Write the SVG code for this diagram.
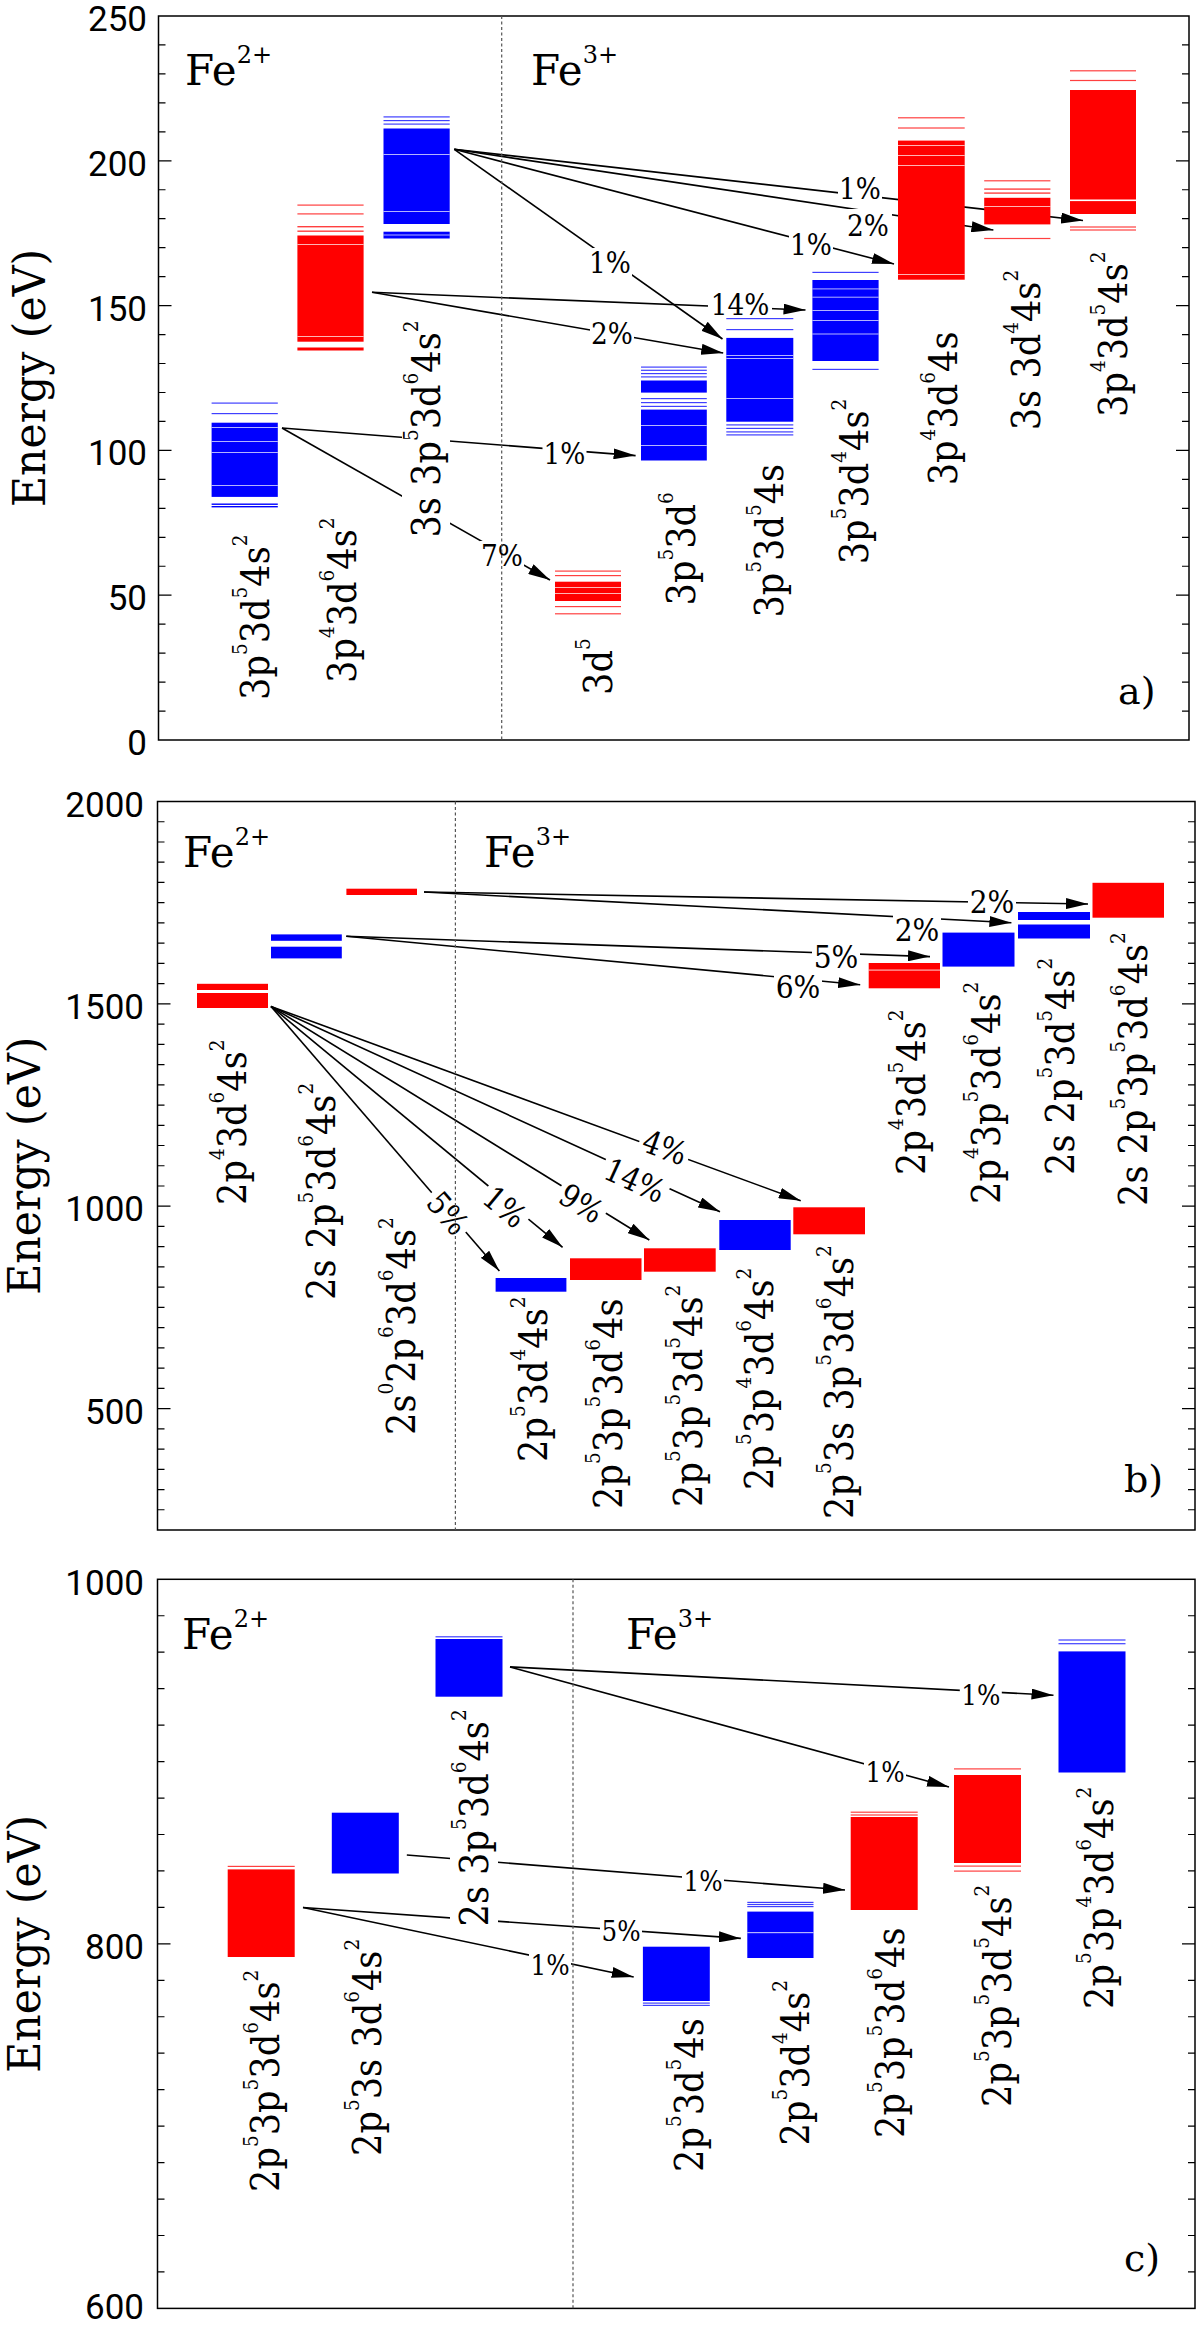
<svg xmlns="http://www.w3.org/2000/svg" width="1200" height="2328" viewBox="0 0 1200 2328">
<defs>
<style>
.bg{fill:#fff}
.fr{fill:none;stroke:#000;stroke-width:1.5}
.tk{fill:none;stroke:#000;stroke-width:1.2}
.dl{stroke:#555;stroke-width:1.2;stroke-dasharray:3,2.5}
.tl{font-family:Roboto,"Liberation Sans",sans-serif;font-size:35px;text-anchor:end;fill:#000}
.ax{font-family:"DejaVu Serif","Liberation Serif",serif;font-size:44px;text-anchor:middle;fill:#000}
.fe{font-family:"DejaVu Serif","Liberation Serif",serif;font-size:42px;fill:#000}
.fs{font-size:24px}
.pl{font-family:"DejaVu Serif","Liberation Serif",serif;font-size:38px;fill:#000}
.cf{font-family:"DejaVu Serif","Liberation Serif",serif;font-size:40px;fill:#000}
.su{font-size:21px}
.pc{font-family:"DejaVu Serif","Liberation Serif",serif;font-size:30px;text-anchor:middle;fill:#000}
.pb{font-size:32px}
.pcc{font-size:28px}
.r{fill:#f00}
.b{fill:#00f}
.rt{fill:#f00;opacity:.75}
.bt{fill:#00f;opacity:.75}
.wl{fill:#fff;opacity:.7}
.w{fill:#fff}
.cn{fill:none;stroke:#000;stroke-width:1.6;marker-end:url(#ah)}
</style>
<marker id="ah" markerUnits="userSpaceOnUse" markerWidth="22" markerHeight="11" refX="22" refY="5.5" orient="auto"><path d="M0,0 L22,5.5 L0,11 z" fill="#000"/></marker>
</defs>
<rect class="bg" x="0" y="0" width="1200" height="2328"/>

<!-- ========== AXES ========== -->
<g id="axes">
<!-- panel a -->
<rect class="fr" x="158.5" y="16" width="1030.5" height="724"/>
<path class="tk" d="M158.5,711.04h7M158.5,682.08h7M158.5,653.12h7M158.5,624.16h7M158.5,595.2h13M158.5,566.24h7M158.5,537.28h7M158.5,508.32h7M158.5,479.36h7M158.5,450.4h13M158.5,421.44h7M158.5,392.48h7M158.5,363.52h7M158.5,334.56h7M158.5,305.6h13M158.5,276.64h7M158.5,247.68h7M158.5,218.72h7M158.5,189.76h7M158.5,160.8h13M158.5,131.84h7M158.5,102.88h7M158.5,73.92h7M158.5,44.96h7"/>
<path class="tk" d="M1189,711.04h-7M1189,682.08h-7M1189,653.12h-7M1189,624.16h-7M1189,595.2h-13M1189,566.24h-7M1189,537.28h-7M1189,508.32h-7M1189,479.36h-7M1189,450.4h-13M1189,421.44h-7M1189,392.48h-7M1189,363.52h-7M1189,334.56h-7M1189,305.6h-13M1189,276.64h-7M1189,247.68h-7M1189,218.72h-7M1189,189.76h-7M1189,160.8h-13M1189,131.84h-7M1189,102.88h-7M1189,73.92h-7M1189,44.96h-7"/>
<text class="tl" x="147" y="755">0</text>
<text class="tl" x="147" y="610.2">50</text>
<text class="tl" x="147" y="465.4">100</text>
<text class="tl" x="147" y="320.6">150</text>
<text class="tl" x="147" y="175.8">200</text>
<text class="tl" x="147" y="31">250</text>
<text class="ax" transform="translate(45,378) rotate(-90)" textLength="258" lengthAdjust="spacingAndGlyphs">Energy (eV)</text>
<text class="fe" x="185" y="85">Fe<tspan class="fs" dy="-22">2+</tspan></text>
<text class="fe" x="531" y="85">Fe<tspan class="fs" dy="-22">3+</tspan></text>
<text class="pl" x="1118" y="704">a)</text>

<!-- panel b -->
<rect class="fr" x="157.5" y="801.5" width="1037.5" height="728.5"/>
<path class="tk" d="M157.5,1509.76h7M157.5,1489.53h7M157.5,1469.29h7M157.5,1449.06h7M157.5,1428.82h7M157.5,1408.58h13M157.5,1388.35h7M157.5,1368.11h7M157.5,1347.88h7M157.5,1327.64h7M157.5,1307.4h7M157.5,1287.17h7M157.5,1266.93h7M157.5,1246.7h7M157.5,1226.46h7M157.5,1206.22h13M157.5,1185.99h7M157.5,1165.75h7M157.5,1145.52h7M157.5,1125.28h7M157.5,1105.04h7M157.5,1084.81h7M157.5,1064.57h7M157.5,1044.34h7M157.5,1024.1h7M157.5,1003.86h13M157.5,983.63h7M157.5,963.39h7M157.5,943.16h7M157.5,922.92h7M157.5,902.68h7M157.5,882.45h7M157.5,862.21h7M157.5,841.98h7M157.5,821.74h7"/>
<path class="tk" d="M1195,1509.76h-7M1195,1489.53h-7M1195,1469.29h-7M1195,1449.06h-7M1195,1428.82h-7M1195,1408.58h-13M1195,1388.35h-7M1195,1368.11h-7M1195,1347.88h-7M1195,1327.64h-7M1195,1307.4h-7M1195,1287.17h-7M1195,1266.93h-7M1195,1246.7h-7M1195,1226.46h-7M1195,1206.22h-13M1195,1185.99h-7M1195,1165.75h-7M1195,1145.52h-7M1195,1125.28h-7M1195,1105.04h-7M1195,1084.81h-7M1195,1064.57h-7M1195,1044.34h-7M1195,1024.1h-7M1195,1003.86h-13M1195,983.63h-7M1195,963.39h-7M1195,943.16h-7M1195,922.92h-7M1195,902.68h-7M1195,882.45h-7M1195,862.21h-7M1195,841.98h-7M1195,821.74h-7"/>
<text class="tl" x="144" y="1423.6">500</text>
<text class="tl" x="144" y="1221.2">1000</text>
<text class="tl" x="144" y="1018.9">1500</text>
<text class="tl" x="144" y="816.5">2000</text>
<text class="ax" transform="translate(40,1165.75) rotate(-90)" textLength="258" lengthAdjust="spacingAndGlyphs">Energy (eV)</text>
<text class="fe" x="183" y="867">Fe<tspan class="fs" dy="-22">2+</tspan></text>
<text class="fe" x="484" y="867">Fe<tspan class="fs" dy="-22">3+</tspan></text>
<text class="pl" x="1124" y="1492">b)</text>

<!-- panel c -->
<rect class="fr" x="157.5" y="1579.3" width="1037.5" height="729.1"/>
<path class="tk" d="M157.5,2271.95h7M157.5,2235.49h7M157.5,2199.04h7M157.5,2162.58h7M157.5,2126.13h7M157.5,2089.67h7M157.5,2053.22h7M157.5,2016.76h7M157.5,1980.31h7M157.5,1943.85h13M157.5,1907.4h7M157.5,1870.94h7M157.5,1834.49h7M157.5,1798.03h7M157.5,1761.58h7M157.5,1725.12h7M157.5,1688.67h7M157.5,1652.21h7M157.5,1615.76h7"/>
<path class="tk" d="M1195,2271.95h-7M1195,2235.49h-7M1195,2199.04h-7M1195,2162.58h-7M1195,2126.13h-7M1195,2089.67h-7M1195,2053.22h-7M1195,2016.76h-7M1195,1980.31h-7M1195,1943.85h-13M1195,1907.4h-7M1195,1870.94h-7M1195,1834.49h-7M1195,1798.03h-7M1195,1761.58h-7M1195,1725.12h-7M1195,1688.67h-7M1195,1652.21h-7M1195,1615.76h-7"/>
<text class="tl" x="144" y="2319">600</text>
<text class="tl" x="144" y="1959">800</text>
<text class="tl" x="144" y="1595">1000</text>
<text class="ax" transform="translate(40,1943.85) rotate(-90)" textLength="258" lengthAdjust="spacingAndGlyphs">Energy (eV)</text>
<text class="fe" x="182" y="1649">Fe<tspan class="fs" dy="-22">2+</tspan></text>
<text class="fe" x="626" y="1649">Fe<tspan class="fs" dy="-22">3+</tspan></text>
<text class="pl" x="1124" y="2271">c)</text>
</g>

<!-- ========== CONNECTORS ========== -->
<g id="connectors">
<line class="cn" x1="454.3" y1="149.3" x2="1083" y2="220.5"/>
<line class="cn" x1="454.3" y1="149.3" x2="993.4" y2="230"/>
<line class="cn" x1="454.3" y1="149.3" x2="894" y2="264"/>
<line class="cn" x1="454.3" y1="149.3" x2="722.5" y2="339"/>
<line class="cn" x1="372" y1="292.3" x2="805.5" y2="310"/>
<line class="cn" x1="372" y1="292.3" x2="723.2" y2="353"/>
<line class="cn" x1="282" y1="428" x2="635.6" y2="455.6"/>
<line class="cn" x1="282" y1="428" x2="550" y2="580"/>

<line class="cn" x1="424" y1="892" x2="1088" y2="904"/>
<line class="cn" x1="424" y1="892" x2="1011.4" y2="922.7"/>
<line class="cn" x1="346.3" y1="936.3" x2="930" y2="956.6"/>
<line class="cn" x1="346.3" y1="936.3" x2="860.2" y2="984.7"/>
<line class="cn" x1="271" y1="1006.4" x2="499.4" y2="1271"/>
<line class="cn" x1="271" y1="1006.4" x2="562.6" y2="1247.3"/>
<line class="cn" x1="271" y1="1006.4" x2="649.3" y2="1240"/>
<line class="cn" x1="271" y1="1006.4" x2="720" y2="1211.7"/>
<line class="cn" x1="271" y1="1006.4" x2="800.7" y2="1200.7"/>

<line class="cn" x1="510" y1="1666.9" x2="1053.5" y2="1695.2"/>
<line class="cn" x1="510" y1="1666.9" x2="949" y2="1787"/>
<line class="cn" x1="406.8" y1="1855" x2="845" y2="1890"/>
<line class="cn" x1="303" y1="1907.5" x2="740.8" y2="1938.4"/>
<line class="cn" x1="303" y1="1907.5" x2="633.7" y2="1977"/>
</g>

<!-- ========== PANEL A NODES ========== -->
<g id="a-3p5-3d5-4s2">
<rect class="bt" x="211.6" y="402.5" width="66.2" height="1.2"/>
<rect class="bt" x="211.6" y="413" width="66.2" height="1.2"/>
<rect class="b" x="211.6" y="422.7" width="66.2" height="74.2"/>
<rect class="wl" x="211.6" y="427" width="66.2" height="1"/>
<rect class="wl" x="211.6" y="441" width="66.2" height="1"/>
<rect class="wl" x="211.6" y="452" width="66.2" height="1"/>
<rect class="wl" x="211.6" y="485" width="66.2" height="1"/>
<rect class="b" x="211.6" y="503.5" width="66.2" height="1.4"/>
<rect class="b" x="211.6" y="506" width="66.2" height="1.4"/>
<text class="cf" transform="translate(269,700) rotate(-90) scale(.88,1)">3p<tspan class="su" dy="-21.6">5</tspan><tspan dy="21.6">3d</tspan><tspan class="su" dy="-21.6">5</tspan><tspan dy="21.6">4s</tspan><tspan class="su" dy="-21.6">2</tspan></text>
</g>
<g id="a-3p4-3d6-4s2">
<rect class="rt" x="297.4" y="204.5" width="66.2" height="1.2"/>
<rect class="rt" x="297.4" y="213.3" width="66.2" height="1.2"/>
<rect class="rt" x="297.4" y="226" width="66.2" height="1.4"/>
<rect class="rt" x="297.4" y="230.5" width="66.2" height="1.4"/>
<rect class="r" x="297.4" y="235.5" width="66.2" height="106.2"/>
<rect class="wl" x="297.4" y="244" width="66.2" height="1"/>
<rect class="wl" x="297.4" y="336" width="66.2" height="1"/>
<rect class="r" x="297.4" y="347.5" width="66.2" height="3"/>
<text class="cf" transform="translate(356,683) rotate(-90) scale(.88,1)">3p<tspan class="su" dy="-21.6">4</tspan><tspan dy="21.6">3d</tspan><tspan class="su" dy="-21.6">6</tspan><tspan dy="21.6">4s</tspan><tspan class="su" dy="-21.6">2</tspan></text>
</g>
<g id="a-3s-3p5-3d6-4s2">
<rect class="bt" x="383.5" y="116.3" width="66.2" height="1.2"/>
<rect class="bt" x="383.5" y="120" width="66.2" height="1.2"/>
<rect class="bt" x="383.5" y="123.5" width="66.2" height="1.2"/>
<rect class="b" x="383.5" y="128.5" width="66.2" height="95.5"/>
<rect class="wl" x="383.5" y="154" width="66.2" height="1"/>
<rect class="wl" x="383.5" y="211" width="66.2" height="1"/>
<rect class="b" x="383.5" y="231.7" width="66.2" height="6.8"/>
<rect class="wl" x="383.5" y="234.5" width="66.2" height="1"/>
<g transform="translate(440,537.6) rotate(-90) scale(.88,1)">
<rect class="w" x="-3" y="-38" width="255" height="48"/>
<text class="cf">3s 3p<tspan class="su" dy="-21.6">5</tspan><tspan dy="21.6">3d</tspan><tspan class="su" dy="-21.6">6</tspan><tspan dy="21.6">4s</tspan><tspan class="su" dy="-21.6">2</tspan></text>
</g>
</g>
<g id="a-3d5">
<rect class="rt" x="555" y="570.5" width="66" height="1.2"/>
<rect class="rt" x="555" y="575" width="66" height="1.2"/>
<rect class="r" x="555" y="581.7" width="66" height="19.3"/>
<rect class="wl" x="555" y="587" width="66" height="1"/>
<rect class="wl" x="555" y="593" width="66" height="1"/>
<rect class="rt" x="555" y="606" width="66" height="1.2"/>
<rect class="rt" x="555" y="613.2" width="66" height="1.2"/>
<text class="cf" transform="translate(612,695) rotate(-90) scale(.88,1)">3d<tspan class="su" dy="-21.6">5</tspan></text>
</g>
<g id="a-3p5-3d6">
<rect class="bt" x="641" y="366.5" width="65.8" height="1.2"/>
<rect class="bt" x="641" y="369.7" width="65.8" height="1.2"/>
<rect class="bt" x="641" y="373" width="65.8" height="1.2"/>
<rect class="bt" x="641" y="376.3" width="65.8" height="1.2"/>
<rect class="b" x="641" y="380.5" width="65.8" height="12.1"/>
<rect class="bt" x="641" y="398" width="65.8" height="1.2"/>
<rect class="bt" x="641" y="402" width="65.8" height="1.2"/>
<rect class="bt" x="641" y="405.8" width="65.8" height="1.2"/>
<rect class="b" x="641" y="409.6" width="65.8" height="50.9"/>
<rect class="wl" x="641" y="425" width="65.8" height="1"/>
<rect class="wl" x="641" y="445" width="65.8" height="1"/>
<text class="cf" transform="translate(695,605.5) rotate(-90) scale(.88,1)">3p<tspan class="su" dy="-21.6">5</tspan><tspan dy="21.6">3d</tspan><tspan class="su" dy="-21.6">6</tspan></text>
</g>
<g id="a-3p5-3d5-4s">
<rect class="bt" x="726.3" y="318" width="67" height="1.2"/>
<rect class="bt" x="726.3" y="329" width="67" height="1.2"/>
<rect class="b" x="726.3" y="337.9" width="67" height="83.8"/>
<rect class="wl" x="726.3" y="355" width="67" height="1"/>
<rect class="wl" x="726.3" y="358" width="67" height="1"/>
<rect class="wl" x="726.3" y="398" width="67" height="1"/>
<rect class="bt" x="726.3" y="424.3" width="67" height="1.2"/>
<rect class="bt" x="726.3" y="427.8" width="67" height="1.2"/>
<rect class="bt" x="726.3" y="431.3" width="67" height="1.2"/>
<rect class="bt" x="726.3" y="434.3" width="67" height="1.2"/>
<text class="cf" transform="translate(783,617.6) rotate(-90) scale(.88,1)">3p<tspan class="su" dy="-21.6">5</tspan><tspan dy="21.6">3d</tspan><tspan class="su" dy="-21.6">5</tspan><tspan dy="21.6">4s</tspan></text>
</g>
<g id="a-3p5-3d4-4s2">
<rect class="bt" x="812.4" y="271.8" width="66.2" height="1.2"/>
<rect class="b" x="812.4" y="280" width="66.2" height="81"/>
<rect class="wl" x="812.4" y="288.4" width="66.2" height="1"/>
<rect class="wl" x="812.4" y="296.7" width="66.2" height="1"/>
<rect class="wl" x="812.4" y="310" width="66.2" height="1"/>
<rect class="wl" x="812.4" y="320" width="66.2" height="1"/>
<rect class="wl" x="812.4" y="333.5" width="66.2" height="1"/>
<rect class="bt" x="812.4" y="368.8" width="66.2" height="1.2"/>
<text class="cf" transform="translate(868,564.3) rotate(-90) scale(.88,1)">3p<tspan class="su" dy="-21.6">5</tspan><tspan dy="21.6">3d</tspan><tspan class="su" dy="-21.6">4</tspan><tspan dy="21.6">4s</tspan><tspan class="su" dy="-21.6">2</tspan></text>
</g>
<g id="a-3p4-3d6-4s">
<rect class="rt" x="898" y="117.2" width="66.7" height="1.2"/>
<rect class="rt" x="898" y="127.4" width="66.7" height="1.2"/>
<rect class="r" x="898" y="140.6" width="66.7" height="139.1"/>
<rect class="wl" x="898" y="145" width="66.7" height="1"/>
<rect class="wl" x="898" y="155" width="66.7" height="1"/>
<rect class="wl" x="898" y="165" width="66.7" height="1"/>
<rect class="wl" x="898" y="274" width="66.7" height="1"/>
<text class="cf" transform="translate(957,485.3) rotate(-90) scale(.88,1)">3p<tspan class="su" dy="-21.6">4</tspan><tspan dy="21.6">3d</tspan><tspan class="su" dy="-21.6">6</tspan><tspan dy="21.6">4s</tspan></text>
</g>
<g id="a-3s-3d4-4s2">
<rect class="rt" x="984.2" y="180.2" width="66.2" height="1.2"/>
<rect class="rt" x="984.2" y="188.4" width="66.2" height="1.4"/>
<rect class="rt" x="984.2" y="192.4" width="66.2" height="1.4"/>
<rect class="r" x="984.2" y="197.8" width="66.2" height="26.6"/>
<rect class="wl" x="984.2" y="206" width="66.2" height="1"/>
<rect class="rt" x="984.2" y="237.9" width="66.2" height="1.2"/>
<text class="cf" transform="translate(1040,430.3) rotate(-90) scale(.88,1)">3s 3d<tspan class="su" dy="-21.6">4</tspan><tspan dy="21.6">4s</tspan><tspan class="su" dy="-21.6">2</tspan></text>
</g>
<g id="a-3p4-3d5-4s2">
<rect class="rt" x="1070" y="70.2" width="66" height="1.2"/>
<rect class="rt" x="1070" y="79.9" width="66" height="1.2"/>
<rect class="r" x="1070" y="90" width="66" height="124"/>
<rect class="w" x="1070" y="199.5" width="66" height="1.6"/>
<rect class="rt" x="1070" y="226.4" width="66" height="1.2"/>
<rect class="rt" x="1070" y="229.4" width="66" height="1.2"/>
<text class="cf" transform="translate(1127,417) rotate(-90) scale(.88,1)">3p<tspan class="su" dy="-21.6">4</tspan><tspan dy="21.6">3d</tspan><tspan class="su" dy="-21.6">5</tspan><tspan dy="21.6">4s</tspan><tspan class="su" dy="-21.6">2</tspan></text>
</g>

<!-- ========== PANEL B NODES ========== -->
<g id="b-2p4-3d6-4s2">
<rect class="r" x="197" y="983.8" width="71" height="6.2"/>
<rect class="r" x="197" y="993" width="71" height="15"/>
<text class="cf" transform="translate(246,1205) rotate(-90) scale(.88,1)">2p<tspan class="su" dy="-21.6">4</tspan><tspan dy="21.6">3d</tspan><tspan class="su" dy="-21.6">6</tspan><tspan dy="21.6">4s</tspan><tspan class="su" dy="-21.6">2</tspan></text>
</g>
<g id="b-2s-2p5-3d6-4s2">
<rect class="b" x="271" y="934.4" width="70.8" height="6.4"/>
<rect class="b" x="271" y="946.7" width="70.8" height="11.7"/>
<text class="cf" transform="translate(335,1300) rotate(-90) scale(.88,1)">2s 2p<tspan class="su" dy="-21.6">5</tspan><tspan dy="21.6">3d</tspan><tspan class="su" dy="-21.6">6</tspan><tspan dy="21.6">4s</tspan><tspan class="su" dy="-21.6">2</tspan></text>
</g>
<g id="b-2s0-2p6-3d6-4s2">
<rect class="r" x="346.4" y="888.7" width="70.6" height="6.3"/>
<text class="cf" transform="translate(415,1435) rotate(-90) scale(.88,1)">2s<tspan class="su" dy="-21.6">0</tspan><tspan dy="21.6">2p</tspan><tspan class="su" dy="-21.6">6</tspan><tspan dy="21.6">3d</tspan><tspan class="su" dy="-21.6">6</tspan><tspan dy="21.6">4s</tspan><tspan class="su" dy="-21.6">2</tspan></text>
</g>
<g id="b-2p5-3d4-4s2">
<rect class="b" x="495.6" y="1278" width="70.8" height="13.7"/>
<text class="cf" transform="translate(547,1462) rotate(-90) scale(.88,1)">2p<tspan class="su" dy="-21.6">5</tspan><tspan dy="21.6">3d</tspan><tspan class="su" dy="-21.6">4</tspan><tspan dy="21.6">4s</tspan><tspan class="su" dy="-21.6">2</tspan></text>
</g>
<g id="b-2p5-3p5-3d6-4s">
<rect class="r" x="570" y="1258.3" width="71.5" height="21.7"/>
<text class="cf" transform="translate(622,1509) rotate(-90) scale(.88,1)">2p<tspan class="su" dy="-21.6">5</tspan><tspan dy="21.6">3p</tspan><tspan class="su" dy="-21.6">5</tspan><tspan dy="21.6">3d</tspan><tspan class="su" dy="-21.6">6</tspan><tspan dy="21.6">4s</tspan></text>
</g>
<g id="b-2p5-3p5-3d5-4s2">
<rect class="r" x="644" y="1248.3" width="71.7" height="23.4"/>
<text class="cf" transform="translate(702,1507) rotate(-90) scale(.88,1)">2p<tspan class="su" dy="-21.6">5</tspan><tspan dy="21.6">3p</tspan><tspan class="su" dy="-21.6">5</tspan><tspan dy="21.6">3d</tspan><tspan class="su" dy="-21.6">5</tspan><tspan dy="21.6">4s</tspan><tspan class="su" dy="-21.6">2</tspan></text>
</g>
<g id="b-2p5-3p4-3d6-4s2">
<rect class="b" x="719.3" y="1220" width="71.4" height="30"/>
<text class="cf" transform="translate(773,1490) rotate(-90) scale(.88,1)">2p<tspan class="su" dy="-21.6">5</tspan><tspan dy="21.6">3p</tspan><tspan class="su" dy="-21.6">4</tspan><tspan dy="21.6">3d</tspan><tspan class="su" dy="-21.6">6</tspan><tspan dy="21.6">4s</tspan><tspan class="su" dy="-21.6">2</tspan></text>
</g>
<g id="b-2p5-3s-3p5-3d6-4s2">
<rect class="r" x="793.3" y="1207.3" width="71.7" height="27"/>
<text class="cf" transform="translate(853,1519) rotate(-90) scale(.88,1)">2p<tspan class="su" dy="-21.6">5</tspan><tspan dy="21.6">3s 3p</tspan><tspan class="su" dy="-21.6">5</tspan><tspan dy="21.6">3d</tspan><tspan class="su" dy="-21.6">6</tspan><tspan dy="21.6">4s</tspan><tspan class="su" dy="-21.6">2</tspan></text>
</g>
<g id="b-2p4-3d5-4s2">
<rect class="r" x="868.7" y="963" width="71.3" height="25.3"/>
<rect class="wl" x="868.7" y="969.5" width="71.3" height="1.2"/>
<text class="cf" transform="translate(925,1175) rotate(-90) scale(.88,1)">2p<tspan class="su" dy="-21.6">4</tspan><tspan dy="21.6">3d</tspan><tspan class="su" dy="-21.6">5</tspan><tspan dy="21.6">4s</tspan><tspan class="su" dy="-21.6">2</tspan></text>
</g>
<g id="b-2p4-3p5-3d6-4s2">
<rect class="b" x="942.5" y="932.6" width="72" height="34"/>
<text class="cf" transform="translate(1000,1204) rotate(-90) scale(.88,1)">2p<tspan class="su" dy="-21.6">4</tspan><tspan dy="21.6">3p</tspan><tspan class="su" dy="-21.6">5</tspan><tspan dy="21.6">3d</tspan><tspan class="su" dy="-21.6">6</tspan><tspan dy="21.6">4s</tspan><tspan class="su" dy="-21.6">2</tspan></text>
</g>
<g id="b-2s-2p5-3d5-4s2">
<rect class="b" x="1018" y="912" width="72" height="8"/>
<rect class="b" x="1018" y="924.5" width="72" height="14"/>
<text class="cf" transform="translate(1074,1175) rotate(-90) scale(.88,1)">2s 2p<tspan class="su" dy="-21.6">5</tspan><tspan dy="21.6">3d</tspan><tspan class="su" dy="-21.6">5</tspan><tspan dy="21.6">4s</tspan><tspan class="su" dy="-21.6">2</tspan></text>
</g>
<g id="b-2s-2p5-3p5-3d6-4s2">
<rect class="r" x="1092.5" y="882.8" width="71.5" height="34.9"/>
<text class="cf" transform="translate(1147,1206) rotate(-90) scale(.88,1)">2s 2p<tspan class="su" dy="-21.6">5</tspan><tspan dy="21.6">3p</tspan><tspan class="su" dy="-21.6">5</tspan><tspan dy="21.6">3d</tspan><tspan class="su" dy="-21.6">6</tspan><tspan dy="21.6">4s</tspan><tspan class="su" dy="-21.6">2</tspan></text>
</g>

<!-- ========== PANEL C NODES ========== -->
<g id="c-2p5-3p5-3d6-4s2">
<rect class="rt" x="227.7" y="1865.8" width="67" height="1.2"/>
<rect class="r" x="227.7" y="1869.4" width="67" height="87.6"/>
<text class="cf" transform="translate(279.4,2192) rotate(-90) scale(.88,1)">2p<tspan class="su" dy="-21.6">5</tspan><tspan dy="21.6">3p</tspan><tspan class="su" dy="-21.6">5</tspan><tspan dy="21.6">3d</tspan><tspan class="su" dy="-21.6">6</tspan><tspan dy="21.6">4s</tspan><tspan class="su" dy="-21.6">2</tspan></text>
</g>
<g id="c-2p5-3s-3d6-4s2">
<rect class="b" x="331.8" y="1812.7" width="67" height="60.8"/>
<text class="cf" transform="translate(381,2156) rotate(-90) scale(.88,1)">2p<tspan class="su" dy="-21.6">5</tspan><tspan dy="21.6">3s 3d</tspan><tspan class="su" dy="-21.6">6</tspan><tspan dy="21.6">4s</tspan><tspan class="su" dy="-21.6">2</tspan></text>
</g>
<g id="c-2s-3p5-3d6-4s2">
<rect class="bt" x="435.5" y="1636.2" width="67" height="1.2"/>
<rect class="b" x="435.5" y="1639" width="67" height="57.7"/>
<g transform="translate(488,1926.5) rotate(-90) scale(.88,1)">
<rect class="w" x="-3" y="-38" width="258" height="48"/>
<text class="cf">2s 3p<tspan class="su" dy="-21.6">5</tspan><tspan dy="21.6">3d</tspan><tspan class="su" dy="-21.6">6</tspan><tspan dy="21.6">4s</tspan><tspan class="su" dy="-21.6">2</tspan></text>
</g>
</g>
<g id="c-2p5-3d5-4s">
<rect class="b" x="642.9" y="1946.7" width="66.9" height="54.3"/>
<rect class="bt" x="642.9" y="2002.5" width="66.9" height="1.2"/>
<rect class="bt" x="642.9" y="2004.8" width="66.9" height="1.2"/>
<text class="cf" transform="translate(703,2172) rotate(-90) scale(.88,1)">2p<tspan class="su" dy="-21.6">5</tspan><tspan dy="21.6">3d</tspan><tspan class="su" dy="-21.6">5</tspan><tspan dy="21.6">4s</tspan></text>
</g>
<g id="c-2p5-3d4-4s2">
<rect class="bt" x="747.3" y="1901.8" width="66.2" height="1.2"/>
<rect class="bt" x="747.3" y="1903.9" width="66.2" height="1.2"/>
<rect class="bt" x="747.3" y="1906" width="66.2" height="1.2"/>
<rect class="b" x="747.3" y="1911.6" width="66.2" height="46.4"/>
<rect class="wl" x="747.3" y="1932" width="66.2" height="1.2"/>
<text class="cf" transform="translate(808.6,2145.5) rotate(-90) scale(.88,1)">2p<tspan class="su" dy="-21.6">5</tspan><tspan dy="21.6">3d</tspan><tspan class="su" dy="-21.6">4</tspan><tspan dy="21.6">4s</tspan><tspan class="su" dy="-21.6">2</tspan></text>
</g>
<g id="c-2p5-3p5-3d6-4s">
<rect class="rt" x="850.7" y="1811.6" width="67" height="1.2"/>
<rect class="rt" x="850.7" y="1814.4" width="67" height="1.2"/>
<rect class="r" x="850.7" y="1817" width="67" height="93"/>
<text class="cf" transform="translate(904,2138) rotate(-90) scale(.88,1)">2p<tspan class="su" dy="-21.6">5</tspan><tspan dy="21.6">3p</tspan><tspan class="su" dy="-21.6">5</tspan><tspan dy="21.6">3d</tspan><tspan class="su" dy="-21.6">6</tspan><tspan dy="21.6">4s</tspan></text>
</g>
<g id="c-2p5-3p5-3d5-4s2">
<rect class="rt" x="954" y="1768.3" width="67" height="1.2"/>
<rect class="r" x="954" y="1775" width="67" height="88"/>
<rect class="rt" x="954" y="1865.5" width="67" height="1.2"/>
<rect class="rt" x="954" y="1870.5" width="67" height="1.2"/>
<text class="cf" transform="translate(1011,2107) rotate(-90) scale(.88,1)">2p<tspan class="su" dy="-21.6">5</tspan><tspan dy="21.6">3p</tspan><tspan class="su" dy="-21.6">5</tspan><tspan dy="21.6">3d</tspan><tspan class="su" dy="-21.6">5</tspan><tspan dy="21.6">4s</tspan><tspan class="su" dy="-21.6">2</tspan></text>
</g>
<g id="c-2p5-3p4-3d6-4s2">
<rect class="bt" x="1058.5" y="1639.4" width="67" height="1.2"/>
<rect class="bt" x="1058.5" y="1643.1" width="67" height="1.2"/>
<rect class="b" x="1058.5" y="1651.4" width="67" height="121.1"/>
<text class="cf" transform="translate(1113,2009) rotate(-90) scale(.88,1)">2p<tspan class="su" dy="-21.6">5</tspan><tspan dy="21.6">3p</tspan><tspan class="su" dy="-21.6">4</tspan><tspan dy="21.6">3d</tspan><tspan class="su" dy="-21.6">6</tspan><tspan dy="21.6">4s</tspan><tspan class="su" dy="-21.6">2</tspan></text>
</g>

<!-- ========== CONNECTOR LABELS ========== -->
<g id="connector-labels">
<g transform="translate(860,188.5)"><rect class="w" x="-22" y="-14" width="44" height="28"/><text class="pc" y="10.9" transform="scale(.88,1)">1%</text></g>
<g transform="translate(868,225)"><rect class="w" x="-24" y="-16" width="48" height="30"/><text class="pc" y="10.9" transform="scale(.88,1)">2%</text></g>
<g transform="translate(811,243.6)"><rect class="w" x="-22" y="-14" width="44" height="28"/><text class="pc" y="10.9" transform="scale(.88,1)">1%</text></g>
<g transform="translate(610,262)"><rect class="w" x="-22" y="-14" width="44" height="28"/><text class="pc" y="10.9" transform="scale(.88,1)">1%</text></g>
<g transform="translate(740,304)"><rect class="w" x="-32" y="-14" width="64" height="28"/><text class="pc" y="10.9" transform="scale(.88,1)">14%</text></g>
<g transform="translate(612,333.5)"><rect class="w" x="-22" y="-14" width="44" height="28"/><text class="pc" y="10.9" transform="scale(.88,1)">2%</text></g>
<g transform="translate(564.5,453)"><rect class="w" x="-22" y="-14" width="44" height="28"/><text class="pc" y="10.9" transform="scale(.88,1)">1%</text></g>
<g transform="translate(502,555)"><rect class="w" x="-22" y="-14" width="44" height="28"/><text class="pc" y="10.9" transform="scale(.88,1)">7%</text></g>

<g transform="translate(992,901)"><rect class="w" x="-24" y="-15" width="48" height="30"/><text class="pc pb" y="11.6" transform="scale(.88,1)">2%</text></g>
<g transform="translate(917,929)"><rect class="w" x="-24" y="-15" width="48" height="30"/><text class="pc pb" y="11.6" transform="scale(.88,1)">2%</text></g>
<g transform="translate(836,956.5)"><rect class="w" x="-24" y="-15" width="48" height="30"/><text class="pc pb" y="11.6" transform="scale(.88,1)">5%</text></g>
<g transform="translate(798,986)"><rect class="w" x="-24" y="-15" width="48" height="30"/><text class="pc pb" y="11.6" transform="scale(.88,1)">6%</text></g>
<g transform="translate(448,1213) rotate(49.2)"><rect class="w" x="-26" y="-15" width="52" height="30"/><text class="pc pb" y="11.6" transform="scale(.88,1)">5%</text></g>
<g transform="translate(505,1206.7) rotate(39.6)"><rect class="w" x="-26" y="-15" width="52" height="30"/><text class="pc pb" y="11.6" transform="scale(.88,1)">1%</text></g>
<g transform="translate(581.5,1203) rotate(31.7)"><rect class="w" x="-26" y="-15" width="52" height="30"/><text class="pc pb" y="11.6" transform="scale(.88,1)">9%</text></g>
<g transform="translate(635,1180) rotate(24.6)"><rect class="w" x="-35" y="-15" width="70" height="30"/><text class="pc pb" y="11.6" transform="scale(.88,1)">14%</text></g>
<g transform="translate(665,1147) rotate(20.1)"><rect class="w" x="-26" y="-15" width="52" height="30"/><text class="pc pb" y="11.6" transform="scale(.88,1)">4%</text></g>

<g transform="translate(980.8,1695)"><rect class="w" x="-21" y="-13" width="42" height="26"/><text class="pc pcc" y="10.2" transform="scale(.88,1)">1%</text></g>
<g transform="translate(885,1771.7)"><rect class="w" x="-21" y="-13" width="42" height="26"/><text class="pc pcc" y="10.2" transform="scale(.88,1)">1%</text></g>
<g transform="translate(703,1880.5)"><rect class="w" x="-21" y="-13" width="42" height="26"/><text class="pc pcc" y="10.2" transform="scale(.88,1)">1%</text></g>
<g transform="translate(621,1931)"><rect class="w" x="-21" y="-13" width="42" height="26"/><text class="pc pcc" y="10.2" transform="scale(.88,1)">5%</text></g>
<g transform="translate(550,1965)"><rect class="w" x="-21" y="-13" width="42" height="26"/><text class="pc pcc" y="10.2" transform="scale(.88,1)">1%</text></g>
</g>

<!-- ========== ION DIVIDERS ========== -->
<g id="dividers">
<line class="dl" x1="501.7" y1="16" x2="501.7" y2="740"/>
<line class="dl" x1="455.4" y1="801.5" x2="455.4" y2="1530"/>
<line class="dl" x1="573" y1="1579.3" x2="573" y2="2308.4"/>
</g>
</svg>
